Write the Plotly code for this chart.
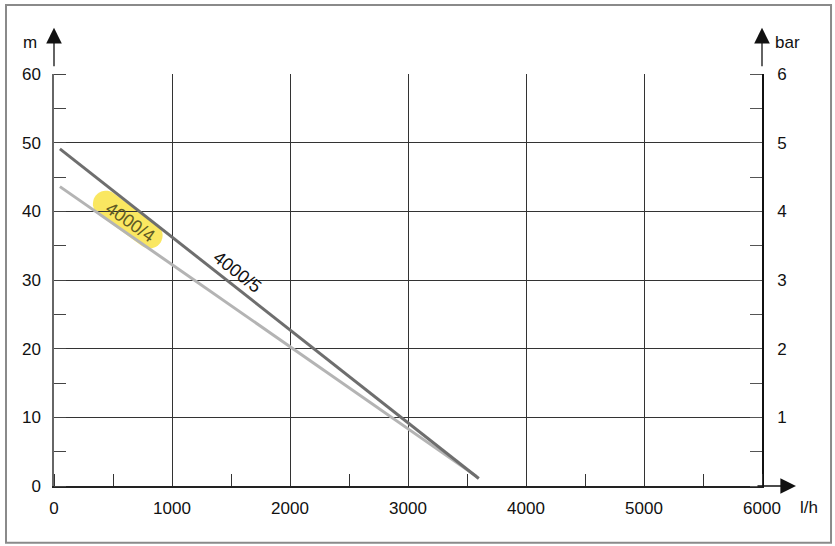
import numpy as np
import plotly.graph_objects as go

# Data
flow_5 = [50, 3600]
head_5 = [49.1, 1.1]
flow_4 = [50, 3580]
head_4 = [43.6, 1.4]
x_ticks = [0, 1000, 2000, 3000, 4000, 5000, 6000]
y_ticks = [0, 10, 20, 30, 40, 50, 60]
bar_ticks = [1, 2, 3, 4, 5, 6]

FONT = "Liberation Sans, Arial, sans-serif"

fig = go.Figure()
fig.add_trace(go.Scatter(x=flow_4, y=head_4, mode="lines",
                         line=dict(color="#b4b4b4", width=3), hoverinfo="skip"))
fig.add_trace(go.Scatter(x=flow_5, y=head_5, mode="lines",
                         line=dict(color="#6e6e6e", width=3), hoverinfo="skip"))
# invisible trace for secondary axis
fig.add_trace(go.Scatter(x=[0], y=[0], yaxis="y2", mode="markers",
                         marker=dict(opacity=0), hoverinfo="skip"))

# yellow highlight (stadium) behind 4000/4 label, in pixel units
L, r = 27, 13
ang = np.deg2rad(36)
pts = []
for th in np.linspace(-np.pi / 2, np.pi / 2, 20):
    pts.append((L + r * np.cos(th), r * np.sin(th)))
for th in np.linspace(np.pi / 2, 3 * np.pi / 2, 20):
    pts.append((-L + r * np.cos(th), r * np.sin(th)))
rot = [(u * np.cos(ang) - v * np.sin(ang), -(u * np.sin(ang) + v * np.cos(ang))) for u, v in pts]
path = "M " + " L ".join(f"{u:.1f},{v:.1f}" for u, v in rot) + " Z"
fig.add_shape(type="path", path=path, xref="x", yref="y",
              xsizemode="pixel", ysizemode="pixel", xanchor=625, yanchor=38.8,
              fillcolor="rgba(250,228,80,0.9)", line=dict(width=0), layer="below")

fig.update_layout(
    width=835, height=546,
    margin=dict(l=54, r=73, t=74, b=60),
    plot_bgcolor="white", paper_bgcolor="white",
    showlegend=False,
    font=dict(family=FONT, size=17, color="#111"),
    xaxis=dict(range=[0, 6000], tickvals=x_ticks, showgrid=True, gridcolor="#333",
               gridwidth=1.2, zeroline=False, showline=True, linecolor="#222", linewidth=1.5,
               ticks="", ticklabelstandoff=6,
               minor=dict(ticks="inside", ticklen=12, tickcolor="#333", tickwidth=1.2,
                          dtick=500, tick0=0, showgrid=False)),
    yaxis=dict(range=[0, 60], tickvals=y_ticks, showgrid=True, gridcolor="#333",
               gridwidth=1.2, zeroline=False, showline=True, linecolor="#666", linewidth=1.5,
               ticks="", ticklabelstandoff=8,
               minor=dict(ticks="inside", ticklen=12, tickcolor="#444", tickwidth=1.2,
                          dtick=5, tick0=0, showgrid=False)),
    yaxis2=dict(range=[0, 6], tickvals=bar_ticks, overlaying="y", side="right",
                showgrid=False, zeroline=False, showline=True, linecolor="#111", linewidth=1.5,
                ticks="", ticklabelstandoff=10,
                minor=dict(ticks="inside", ticklen=12, tickcolor="#555", tickwidth=1.2,
                           dtick=0.5, tick0=0, showgrid=False)),
)

# outer border
fig.add_shape(type="rect", xref="paper", yref="paper",
              x0=-0.0678, x1=1.0975, y0=-0.138, y1=1.1675,
              line=dict(color="#8a8a8a", width=2), fillcolor="rgba(0,0,0,0)")

# axis arrows
arrow = dict(text="", showarrow=True, arrowhead=2, arrowsize=2.4, arrowwidth=1.3,
             arrowcolor="#111")
fig.add_annotation(x=0, y=1.112, xref="x", yref="paper", ax=0, ay=40, **arrow)
fig.add_annotation(x=1.0, y=1.112, xref="paper", yref="paper", ax=0, ay=40, **arrow)
fig.add_annotation(x=1.048, y=0, xref="paper", yref="paper", ax=-40, ay=0, **arrow)

# axis unit labels
lab = dict(xref="paper", yref="paper", showarrow=False, xanchor="center", yanchor="middle")
fig.add_annotation(x=(30 - 54) / 708, y=(486 - 43) / 412, text="m", **lab)
fig.add_annotation(x=(787 - 54) / 708, y=(486 - 43) / 412, text="bar", **lab)
fig.add_annotation(x=(809 - 54) / 708, y=(486 - 507) / 412, text="l/h", **lab)

# curve labels
fig.add_annotation(x=1555, y=31.2, text="4000/5", showarrow=False, textangle=38,
                   font=dict(size=18, color="#111"))
fig.add_annotation(x=645, y=38.5, text="4000/4", showarrow=False, textangle=35,
                   font=dict(size=18, color="#5f5a25"))

fig.write_html("out.html", config={"displayModeBar": False},
               post_script="document.body.style.margin='0';document.body.style.overflow='hidden';")
